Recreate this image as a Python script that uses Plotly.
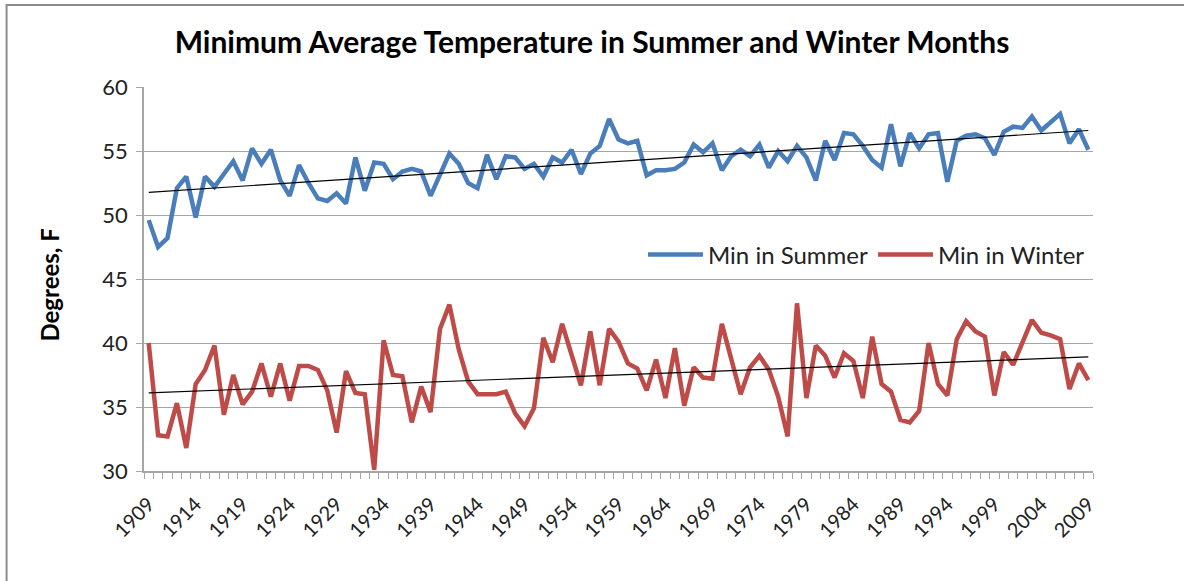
import numpy as np
import plotly.graph_objects as go

years = list(range(1909, 2010))

min_summer = [
    49.6, 47.5, 48.2, 52.1, 53.0, 49.8, 53.0, 52.2, 53.2, 54.2,
    52.7, 55.2, 54.0, 55.1, 52.7, 51.5, 53.9, 52.5, 51.3, 51.1,
    51.7, 50.9, 54.5, 51.9, 54.1, 54.0, 52.8, 53.4, 53.6, 53.4,
    51.5, 53.1, 54.8, 54.0, 52.5, 52.1, 54.7, 52.8, 54.6, 54.5,
    53.6, 54.0, 53.0, 54.5, 54.1, 55.1, 53.2, 54.8, 55.4, 57.5,
    55.9, 55.6, 55.8, 53.1, 53.5, 53.5, 53.6, 54.1, 55.5, 54.9,
    55.6, 53.5, 54.6, 55.1, 54.6, 55.5, 53.7, 55.0, 54.2, 55.4,
    54.5, 52.7, 55.8, 54.3, 56.4, 56.3, 55.4, 54.3, 53.7, 57.1,
    53.8, 56.4, 55.2, 56.3, 56.4, 52.6, 55.8, 56.2, 56.3, 56.0,
    54.7, 56.5, 56.9, 56.8, 57.7, 56.6, 57.3, 57.9, 55.6, 56.7,
    55.1,
]

min_winter = [
    40.0, 32.8, 32.7, 35.3, 31.8, 36.8, 37.9, 39.8, 34.4, 37.5,
    35.2, 36.2, 38.4, 35.8, 38.4, 35.5, 38.2, 38.2, 37.9, 36.3,
    33.0, 37.8, 36.1, 36.0, 30.1, 40.2, 37.5, 37.4, 33.8, 36.6,
    34.6, 41.1, 43.0, 39.5, 37.0, 36.0, 36.0, 36.0, 36.2, 34.5,
    33.5, 34.9, 40.4, 38.5, 41.5, 39.1, 36.7, 40.9, 36.7, 41.1,
    40.1, 38.4, 38.0, 36.3, 38.7, 35.7, 39.6, 35.1, 38.1, 37.3,
    37.2, 41.5, 38.8, 36.0, 38.1, 39.0, 37.9, 35.8, 32.7, 43.1,
    35.7, 39.8, 39.0, 37.3, 39.2, 38.6, 35.7, 40.5, 36.8, 36.2,
    34.0, 33.8, 34.7, 40.0, 36.8, 35.9, 40.3, 41.7, 40.9, 40.5,
    35.9, 39.3, 38.3, 40.1, 41.8, 40.8, 40.6, 40.3, 36.4, 38.4,
    37.1,
]

tick_years = list(range(1909, 2010, 5))

title_text = "Minimum Average Temperature in Summer and Winter Months"
y_title = "Degrees, F"

FONT = "Lato, 'Open Sans', sans-serif"
BLUE = "#4A7EBB"
RED = "#BE4B48"

x = np.array(years, dtype=float)
ps = np.polyfit(x, np.array(min_summer), 1)
pw = np.polyfit(x, np.array(min_winter), 1)
trend_s = np.polyval(ps, x)
trend_w = np.polyval(pw, x)

fig = go.Figure()
fig.add_trace(go.Scatter(x=years, y=min_summer, mode="lines", name="Min in Summer",
                         line=dict(color=BLUE, width=4.5)))
fig.add_trace(go.Scatter(x=years, y=min_winter, mode="lines", name="Min in Winter",
                         line=dict(color=RED, width=4.5)))
fig.add_trace(go.Scatter(x=years, y=trend_s, mode="lines", showlegend=False,
                         line=dict(color="black", width=1.2), hoverinfo="skip"))
fig.add_trace(go.Scatter(x=years, y=trend_w, mode="lines", showlegend=False,
                         line=dict(color="black", width=1.2), hoverinfo="skip"))

L, R, T, B = 143.5, 91, 87, 110
W, H = 1184, 581
pw_px = W - L - R
ph_px = H - T - B

def px_x(p):
    return (p - L) / pw_px

def px_y(p):
    return (H - B - p) / ph_px

fig.update_layout(
    width=W, height=H,
    margin=dict(l=L, r=R, t=T, b=B, pad=0),
    paper_bgcolor="white", plot_bgcolor="white",
    font=dict(family=FONT, color="#222222"),
    title=dict(text="<b>" + title_text + "</b>", x=0.5, xanchor="center",
               y=1 - 42 / H, yanchor="middle", font=dict(size=30, family=FONT, color="black")),
    showlegend=True,
    legend=dict(orientation="h", x=px_x(1090), xanchor="right", y=px_y(255), yanchor="middle",
                font=dict(size=24, family=FONT, color="#222222"), bgcolor="rgba(0,0,0,0)",
                itemwidth=55, traceorder="normal"),
)

fig.update_xaxes(
    range=[1908.5, 2009.5],
    tickmode="array", tickvals=tick_years, ticktext=[str(t) for t in tick_years],
    tickangle=-45, ticks="", showgrid=False, ticklabelstandoff=12,
    showline=True, linecolor="#A6A6A6", linewidth=1.5,
    tickfont=dict(size=20, family=FONT, color="#222222"),
    minor=dict(ticks="outside", ticklen=6, tick0=1908.5, dtick=1, tickcolor="#A6A6A6",
               tickwidth=1, showgrid=False),
    zeroline=False,
)
fig.update_yaxes(
    range=[30, 60], dtick=5, tick0=30,
    showgrid=True, gridcolor="#A6A6A6", gridwidth=1.3,
    showline=True, linecolor="#A6A6A6", linewidth=1.5,
    ticks="outside", ticklen=6, tickcolor="#A6A6A6", ticklabelstandoff=4,
    tickfont=dict(size=22, family=FONT, color="#222222"),
    zeroline=False,
)

fig.add_annotation(text="<b>" + y_title + "</b>", textangle=-90, xref="paper", yref="paper",
                   x=px_x(48), y=px_y(285), xanchor="center", yanchor="middle", showarrow=False,
                   font=dict(size=24, family=FONT, color="black"))

fig.add_shape(type="rect", xref="paper", yref="paper",
              x0=px_x(6), x1=px_x(1200), y0=px_y(600), y1=px_y(5),
              line=dict(color="#8C8C8C", width=2), fillcolor="rgba(0,0,0,0)", layer="below")

fig.write_html("out.html", config={"displayModeBar": False},
               post_script="document.body.style.margin='0';document.body.style.overflow='hidden';")
